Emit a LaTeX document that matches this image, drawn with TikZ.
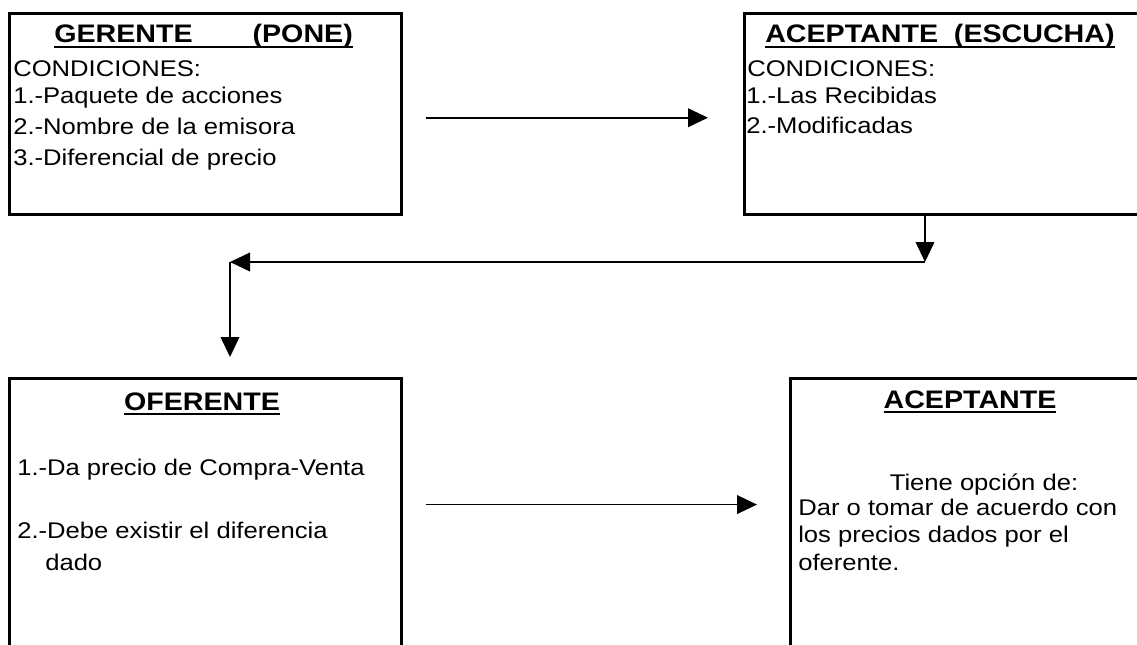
\documentclass[tikz,border=0pt]{standalone}
\usepackage{fontspec}
\setmainfont{Liberation Sans}[FakeStretch=1.13]
\usetikzlibrary{arrows.meta}

\newcommand{\ulhead}[1]{\setbox0=\hbox{#1}\rlap{\rule[-4pt]{\wd0}{1.5pt}}\box0}

\tikzset{
  panel/.style={draw, line width=2.6pt, anchor=north west, inner sep=0pt},
  txt/.style={anchor=base west, inner sep=0pt, font=\fontsize{17}{20}\selectfont},
  head/.style={anchor=base west, inner sep=0pt, font=\bfseries\fontsize{19}{22}\selectfont},
  arr/.style={line width=1.3pt, -{Triangle[length=15pt,width=14pt]}}
}

\begin{document}
\begin{tikzpicture}[x=0.75pt,y=0.75pt,yscale=-1,xscale=1]
\clip (0,0) rectangle (1137,645);

%Shape: Rectangle [gerente]
\node [panel, minimum width=294pt, minimum height=150.75pt] (gerente) at (8,12) {};
%Shape: Rectangle [escucha]
\node [panel, minimum width=295.5pt, minimum height=150.75pt] (escucha) at (743,12) {};
%Shape: Rectangle [oferente]
\node [panel, minimum width=294pt, minimum height=227pt] (oferente) at (8,377) {};
%Shape: Rectangle [aceptante]
\node [panel, minimum width=278pt, minimum height=227pt] (aceptante) at (789,377) {};

% Text Node
\node [head] (gtit) at (54,43) {\ulhead{GERENTE\hspace{45pt}(PONE)}};
\node [txt] (gcon) at (13,77) {CONDICIONES:};
\node [txt] (g1) at (13,104) {1.-Paquete de acciones};
\node [txt] (g2) at (13,135) {2.-Nombre de la emisora};
\node [txt] (g3) at (13,166) {3.-Diferencial de precio};
% Text Node
\node [head] (etit) at (765,43) {\ulhead{ACEPTANTE\ \ (ESCUCHA)}};
\node [txt] (econ) at (747,77) {CONDICIONES:};
\node [txt] (e1) at (746,104) {1.-Las Recibidas};
\node [txt] (e2) at (746,134) {2.-Modificadas};
% Text Node
\node [head, anchor=base] (otit) at (202,410) {\ulhead{OFERENTE}};
\node [txt] (o1) at (17,475) {1.-Da precio de Compra-Venta};
\node [txt] (o2) at (17,538) {2.-Debe existir el diferencia};
\node [txt] (o3) at (45,570) {dado};
% Text Node
\node [head, anchor=base] (atit) at (970,408) {\ulhead{ACEPTANTE}};
\node [txt, anchor=base] (a0) at (984,490) {Tiene opción de:};
\node [txt] (a1) at (798,515) {Dar o tomar de acuerdo con};
\node [txt] (a2) at (798,542) {los precios dados por el};
\node [txt] (a3) at (798,570) {oferente.};

%Straight Lines
\coordinate (bend) at (925,262);
\coordinate (corner) at (230,262);
\draw [arr] ([shift={(23,3.5)}]gerente.east) -- ([shift={(-35,3.5)}]escucha.west);
\draw [arr] (bend |- escucha.south) -- (bend);
\draw [arr] (bend) -- (corner);
\draw [arr, shorten >=15pt] (corner) -- (corner |- oferente.north);
\draw [arr] ([shift={(23,-25.5)}]oferente.east) -- ([shift={(-32,-25.5)}]aceptante.west);

\end{tikzpicture}
\end{document}
